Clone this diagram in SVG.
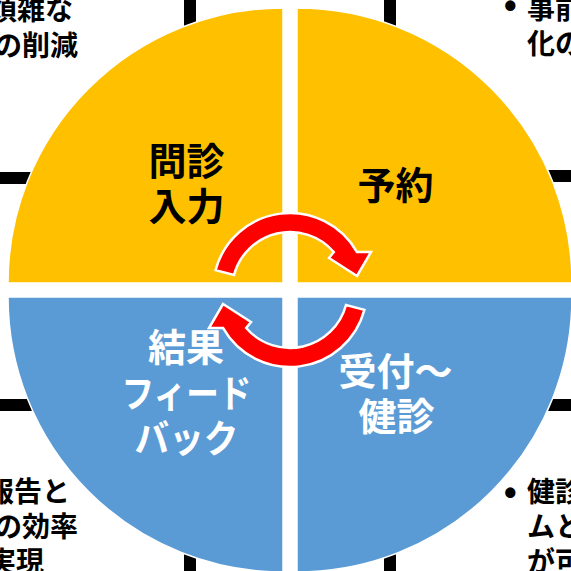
<svg xmlns="http://www.w3.org/2000/svg" width="571" height="571" viewBox="0 0 571 571">
<style>
.bar{fill:#000}
.q{stroke:#fff;stroke-width:1.5}
.y{fill:#FFC000}
.b{fill:#5B9BD5}
.lbl{font-family:"Noto Sans CJK JP","Noto Sans CJK SC",sans-serif;font-weight:bold;font-size:38px;text-anchor:middle}
.dk{fill:#000}
.wt{fill:#fff}
.note{font-family:"Noto Sans CJK JP","Noto Sans CJK SC",sans-serif;font-weight:bold;font-size:28px;fill:#000}
.bul{font-family:"Liberation Sans",Arial,sans-serif;font-weight:bold;font-size:36px;fill:#000}
.arr{fill:#FF0000;stroke:#fff;stroke-width:2.5;stroke-linejoin:miter}
</style>
<rect width="571" height="571" fill="#fff"/>
<g id="callout-bars">
<rect class="bar" x="184" y="-5" width="12" height="40"/>
<rect class="bar" x="384" y="-5" width="12" height="40"/>
<rect class="bar" x="-5" y="172" width="45" height="12"/>
<rect class="bar" x="530" y="170" width="46" height="12"/>
<rect class="bar" x="-5" y="399" width="45" height="12"/>
<rect class="bar" x="530" y="399" width="46" height="12"/>
<rect class="bar" x="184" y="540" width="12" height="36"/>
<rect class="bar" x="384" y="540" width="12" height="36"/>
</g>
<g id="node-monshin">
<path class="q y" d="M283,283 L8,283 A275,275 0 0 1 283,8 Z"/>
<text class="lbl dk" x="186.5" y="175">問診</text>
<text class="lbl dk" x="186.5" y="220">入力</text>
</g>
<g id="node-yoyaku">
<path class="q y" d="M297,283 L297,8 A275,275 0 0 1 572,283 Z"/>
<text class="lbl dk" x="395.5" y="199">予約</text>
</g>
<g id="node-uketsuke">
<path class="q b" d="M297,297 L572,297 A275,275 0 0 1 297,572 Z"/>
<text class="lbl wt" x="395.5" y="385">受付～</text>
<text class="lbl wt" x="396.5" y="430">健診</text>
</g>
<g id="node-feedback">
<path class="q b" d="M283,297 L283,572 A275,275 0 0 1 8,297 Z"/>
<text class="lbl wt" x="186" y="361">結果</text>
<text class="lbl wt" x="186.5" y="407" textLength="130" lengthAdjust="spacingAndGlyphs">フィード</text>
<text class="lbl wt" x="186.5" y="452" textLength="104" lengthAdjust="spacingAndGlyphs">バック</text>
</g>
<g id="connectors">
<path id="cycle-top" class="arr" d="M215.6,270.1 A77,77 0 0 1 357,252.1 L371,252 L357,276 L329,258 L333.8,252 A58,58 0 0 0 234,275 Z"/>
<path id="cycle-bottom" class="arr" transform="rotate(180 290 290)" d="M215.6,270.1 A77,77 0 0 1 357,252.1 L371,252 L357,276 L329,258 L333.8,252 A58,58 0 0 0 234,275 Z"/>
</g>
<g id="note-tl">
<text class="note" x="-11" y="20">煩雑な</text>
<text class="note" x="-6" y="56">の削減</text>
</g>
<g id="note-tr">
<text class="bul" x="504" y="18">•</text>
<text class="note" x="527" y="19">事前</text>
<text class="note" x="527" y="54">化の</text>
</g>
<g id="note-bl">
<text class="note" x="-14" y="502">報告と</text>
<text class="note" x="-6" y="537">の効率</text>
<text class="note" x="-12" y="572">実現</text>
</g>
<g id="note-br">
<text class="bul" x="504" y="505">•</text>
<text class="note" x="527" y="502">健診</text>
<text class="note" x="527" y="537">ムと</text>
<text class="note" x="527" y="572">が可</text>
</g>
</svg>
